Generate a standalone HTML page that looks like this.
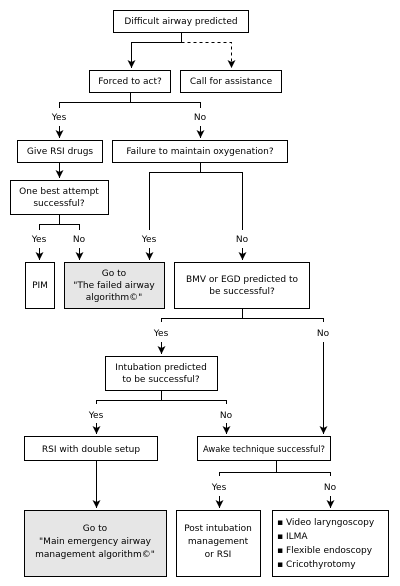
<!DOCTYPE html>
<html><head><meta charset="utf-8"><style>
html,body{margin:0;padding:0;background:#fff;}
svg{display:block;}
text{font-family:"DejaVu Sans","Liberation Sans",sans-serif;font-size:9px;fill:#000;}
</style></head><body>
<svg width="400" height="586" viewBox="0 0 400 586">
<defs>
<marker id="ar" viewBox="0 0 8 8" markerWidth="8" markerHeight="8" refX="8" refY="4" orient="auto" markerUnits="userSpaceOnUse"><path d="M0,0 L8,4 L0,8 L2,4 z" fill="#000"/></marker></defs>
<g stroke="#000" stroke-width="1" fill="none">
<rect x="113.5" y="10.5" width="135" height="22" fill="#fff"/>
<rect x="89.5" y="70.5" width="81" height="22"/>
<rect x="180.5" y="70.5" width="101" height="22"/>
<rect x="17.5" y="140.5" width="85" height="22"/>
<rect x="112.5" y="140.5" width="175" height="22"/>
<rect x="10.5" y="180.5" width="98" height="34"/>
<rect x="25.5" y="262.5" width="29" height="46"/>
<rect x="64.5" y="262.5" width="100" height="46" fill="#e6e6e6"/>
<rect x="174.5" y="262.5" width="135" height="46"/>
<rect x="105.5" y="356.5" width="112" height="34"/>
<rect x="24.5" y="436.5" width="133" height="24"/>
<rect x="197.5" y="436.5" width="133" height="24"/>
<rect x="24.5" y="510.5" width="142" height="66" fill="#e6e6e6"/>
<rect x="176.5" y="510.5" width="84" height="66"/>
<rect x="272.5" y="510.5" width="116" height="66"/>
<path d="M181.5,32 V42.5 H131.5 V68" marker-end="url(#ar)"/>
<path d="M181.5,42.5 H231.5 V68" stroke-dasharray="3,3" marker-end="url(#ar)"/>
<path d="M130.5,92 V102.5 H59.5 V108 M130.5,102.5 H200.5 V108"/>
<path d="M59.5,126 V138" marker-end="url(#ar)"/><path d="M200.5,126 V138" marker-end="url(#ar)"/>
<path d="M59.5,162 V178" marker-end="url(#ar)"/>
<path d="M200.5,162 V172.5 H149.5 V230 M200.5,172.5 H242.5 V230"/>
<path d="M59.5,214 V224.5 H39.5 V230 M59.5,224.5 H79.5 V230"/>
<path d="M39.5,248 V260" marker-end="url(#ar)"/><path d="M79.5,248 V260" marker-end="url(#ar)"/>
<path d="M149.5,248 V260" marker-end="url(#ar)"/><path d="M242.5,248 V260" marker-end="url(#ar)"/>
<path d="M242.5,308 V318.5 H161.5 V322 M242.5,318.5 H323.5 V322"/>
<path d="M161.5,342 V354" marker-end="url(#ar)"/>
<path d="M323.5,342 V434" marker-end="url(#ar)"/>
<path d="M161.5,390 V400.5 H96.5 V404 M161.5,400.5 H226.5 V404"/>
<path d="M96.5,423 V434" marker-end="url(#ar)"/><path d="M226.5,423 V434" marker-end="url(#ar)"/>
<path d="M96.5,460 V508" marker-end="url(#ar)"/>
<path d="M276.5,460 V472.5 H219.5 V476 M276.5,472.5 H330.5 V476"/>
<path d="M219.5,496 V508" marker-end="url(#ar)"/><path d="M330.5,496 V508" marker-end="url(#ar)"/>
</g>
<g text-anchor="middle">
<text x="181" y="24">Difficult airway predicted</text>
<text x="130" y="84">Forced to act?</text>
<text x="231" y="84">Call for assistance</text>
<text x="59" y="120">Yes</text><text x="200" y="120">No</text>
<text x="60" y="154">Give RSI drugs</text>
<text x="200" y="154">Failure to maintain oxygenation?</text>
<text x="59" y="194">One best attempt</text>
<text x="59" y="206">successful?</text>
<text x="39" y="242">Yes</text><text x="79" y="242">No</text>
<text x="149" y="242">Yes</text><text x="242" y="242">No</text>
<text x="40" y="288">PIM</text>
<text x="114" y="276">Go to</text>
<text x="114" y="288">"The failed airway</text>
<text x="114" y="300">algorithm©"</text>
<text x="242" y="282">BMV or EGD predicted to</text>
<text x="242" y="294">be successful?</text>
<text x="161" y="336">Yes</text><text x="323" y="336">No</text>
<text x="161" y="370">Intubation predicted</text>
<text x="161" y="382">to be successful?</text>
<text x="96" y="418">Yes</text><text x="226" y="418">No</text>
<text x="91" y="452">RSI with double setup</text>
<text x="264" y="452" textLength="122" lengthAdjust="spacingAndGlyphs">Awake technique successful?</text>
<text x="219" y="490">Yes</text><text x="330" y="490">No</text>
<text x="95" y="531">Go to</text>
<text x="95" y="544">"Main emergency airway</text>
<text x="95" y="557">management algorithm©"</text>
<text x="218" y="531">Post intubation</text>
<text x="218" y="544">management</text>
<text x="218" y="557">or RSI</text>
</g>
<g>
<text x="277" y="525">▪ Video laryngoscopy</text>
<text x="277" y="539">▪ ILMA</text>
<text x="277" y="553">▪ Flexible endoscopy</text>
<text x="277" y="567">▪ Cricothyrotomy</text>
</g>
</svg>
</body></html>
